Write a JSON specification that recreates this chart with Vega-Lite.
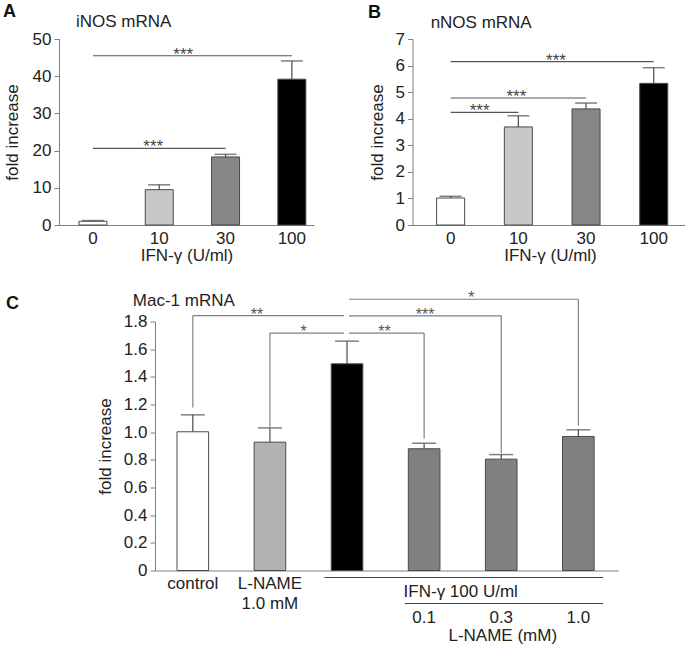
{
  "$schema": "https://vega.github.io/schema/vega-lite/v6.json",
  "padding": {"left": 3, "top": 2, "right": 0, "bottom": 0},
  "background": "white",
  "resolve": {"scale": {"color": "independent"}},
  "spacing": 26.5,
  "config": {
    "view": {"stroke": null},
    "font": "Liberation Sans",
    "axis": {"grid": false, "domainColor": "#808080", "tickColor": "#808080", "labelFont": "Liberation Sans", "titleFont": "Liberation Sans", "labelColor": "#222222", "titleColor": "#222222", "labelFontSize": 17, "titleFontSize": 17, "titleFontWeight": "normal", "labelOverlap": false},
    "axisY": {"tickSize": 5, "labelPadding": 3, "titlePadding": 9},
    "axisX": {"ticks": false, "tickSize": 0, "labelPadding": 5, "titlePadding": 1, "labelAngle": 0},
    "title": {"font": "Liberation Sans", "fontSize": 18, "fontWeight": "bold", "anchor": "start", "frame": "bounds", "color": "#111111"},
    "text": {"font": "Liberation Sans", "fontSize": 17, "color": "#222222"}
  },
  "vconcat": [
    {
      "spacing": 53.5,
      "resolve": {"scale": {"color": "independent"}},
      "hconcat": [
        {
          "width": 255, "height": 186,
          "title": {"text": "A", "offset": -8},
          "data": {"values": [
            {"dose": "0", "mean": 1.0, "upper": 1.2},
            {"dose": "10", "mean": 9.5, "upper": 10.8},
            {"dose": "30", "mean": 18.3, "upper": 19.0},
            {"dose": "100", "mean": 39.2, "upper": 44.1}
          ]},
          "encoding": {
            "x": {"field": "dose", "type": "nominal", "scale": {"domain": ["0", "10", "30", "100"], "paddingInner": 0.578, "paddingOuter": 0.212, "align": 0.71}, "axis": {"title": "IFN-γ (U/ml)"}},
            "y": {"field": "mean", "type": "quantitative", "scale": {"domain": [0, 50]}, "axis": {"title": "fold increase", "titlePadding": 11, "values": [0, 10, 20, 30, 40, 50]}}
          },
          "layer": [
            {"mark": {"type": "bar", "stroke": "#4a4a4a", "strokeWidth": 1},
             "encoding": {"color": {"field": "dose", "type": "nominal", "scale": {"domain": ["0", "10", "30", "100"], "range": ["#ffffff", "#c8c8c8", "#868686", "#000000"]}, "legend": null}}},
            {"mark": {"type": "rule", "color": "#4a4a4a", "strokeWidth": 1.2}, "encoding": {"y2": {"field": "upper"}}},
            {"mark": {"type": "tick", "color": "#4a4a4a", "size": 22, "thickness": 1.5}, "encoding": {"y": {"field": "upper", "type": "quantitative"}}},
            {"data": {"values": [{"from": "0", "to": "30", "level": 20.6}, {"from": "0", "to": "100", "level": 45.5}]},
             "mark": {"type": "rule", "color": "#555555", "strokeWidth": 1.2},
             "encoding": {"x": {"field": "from", "type": "nominal", "bandPosition": 0.5}, "x2": {"field": "to", "bandPosition": 0.5}, "y": {"field": "level", "type": "quantitative"}}},
            {"data": {"values": [{"at": "10", "level": 20.6, "sig": "***"}]},
             "mark": {"type": "text", "baseline": "alphabetic", "dx": -6, "dy": 4, "fontSize": 17, "color": "#444444"},
             "encoding": {"x": {"field": "at", "type": "nominal"}, "y": {"field": "level", "type": "quantitative"}, "text": {"field": "sig"}}},
            {"data": {"values": [{"at": "10", "level": 45.5, "sig": "***"}]},
             "mark": {"type": "text", "baseline": "alphabetic", "dx": 24, "dy": 4, "fontSize": 17, "color": "#444444"},
             "encoding": {"x": {"field": "at", "type": "nominal"}, "y": {"field": "level", "type": "quantitative"}, "text": {"field": "sig"}}},
            {"data": {"values": [{"at": "0", "level": 54.6, "label": "iNOS mRNA"}]},
             "mark": {"type": "text", "align": "left", "baseline": "middle", "dx": -17, "fontSize": 17},
             "encoding": {"x": {"field": "at", "type": "nominal"}, "y": {"field": "level", "type": "quantitative"}, "text": {"field": "label"}}}
          ]
        },
        {
          "width": 275, "height": 186,
          "title": {"text": "B", "offset": -8},
          "data": {"values": [
            {"dose": "0", "mean": 1.016, "upper": 1.08},
            {"dose": "10", "mean": 3.69, "upper": 4.11},
            {"dose": "30", "mean": 4.37, "upper": 4.59},
            {"dose": "100", "mean": 5.33, "upper": 5.92}
          ]},
          "encoding": {
            "x": {"field": "dose", "type": "nominal", "scale": {"domain": ["0", "10", "30", "100"], "paddingInner": 0.586, "paddingOuter": 0.324, "align": 0.55}, "axis": {"title": "IFN-γ (U/ml)"}},
            "y": {"field": "mean", "type": "quantitative", "scale": {"domain": [0, 7]}, "axis": {"title": "fold increase", "values": [0, 1, 2, 3, 4, 5, 6, 7]}}
          },
          "layer": [
            {"mark": {"type": "bar", "stroke": "#4a4a4a", "strokeWidth": 1},
             "encoding": {"color": {"field": "dose", "type": "nominal", "scale": {"domain": ["0", "10", "30", "100"], "range": ["#ffffff", "#c8c8c8", "#868686", "#000000"]}, "legend": null}}},
            {"mark": {"type": "rule", "color": "#4a4a4a", "strokeWidth": 1.2}, "encoding": {"y2": {"field": "upper"}}},
            {"mark": {"type": "tick", "color": "#4a4a4a", "size": 22, "thickness": 1.5}, "encoding": {"y": {"field": "upper", "type": "quantitative"}}},
            {"data": {"values": [{"from": "0", "to": "10", "level": 4.24}, {"from": "0", "to": "30", "level": 4.78}, {"from": "0", "to": "100", "level": 6.15}]},
             "mark": {"type": "rule", "color": "#555555", "strokeWidth": 1.2},
             "encoding": {"x": {"field": "from", "type": "nominal", "bandPosition": 0.5}, "x2": {"field": "to", "bandPosition": 0.5}, "y": {"field": "level", "type": "quantitative"}}},
            {"data": {"values": [{"at": "0", "level": 4.24, "sig": "***"}]},
             "mark": {"type": "text", "baseline": "alphabetic", "dx": 29, "dy": 4, "fontSize": 17, "color": "#444444"},
             "encoding": {"x": {"field": "at", "type": "nominal"}, "y": {"field": "level", "type": "quantitative"}, "text": {"field": "sig"}}},
            {"data": {"values": [{"at": "10", "level": 4.78, "sig": "***"}]},
             "mark": {"type": "text", "baseline": "alphabetic", "dx": -2, "dy": 4, "fontSize": 17, "color": "#444444"},
             "encoding": {"x": {"field": "at", "type": "nominal"}, "y": {"field": "level", "type": "quantitative"}, "text": {"field": "sig"}}},
            {"data": {"values": [{"at": "30", "level": 6.15, "sig": "***"}]},
             "mark": {"type": "text", "baseline": "alphabetic", "dx": -30, "dy": 4, "fontSize": 17, "color": "#444444"},
             "encoding": {"x": {"field": "at", "type": "nominal"}, "y": {"field": "level", "type": "quantitative"}, "text": {"field": "sig"}}},
            {"data": {"values": [{"at": "0", "level": 7.6, "label": "nNOS mRNA"}]},
             "mark": {"type": "text", "align": "left", "baseline": "middle", "dx": -20, "fontSize": 17},
             "encoding": {"x": {"field": "at", "type": "nominal"}, "y": {"field": "level", "type": "quantitative"}, "text": {"field": "label"}}}
          ]
        }
      ]
    },
    {
      "spacing": 20,
      "resolve": {"scale": {"color": "independent"}},
      "hconcat": [
        {
          "width": 17, "height": 249,
          "title": {"text": "C", "dx": -53, "offset": 9},
          "data": {"values": []},
          "mark": {"type": "point", "opacity": 0}
        },
        {
          "width": 463, "height": 249,
          "data": {"values": [
            {"group": "control", "mean": 1.003, "upper": 1.125},
            {"group": "lname", "mean": 0.928, "upper": 1.031},
            {"group": "ifn", "mean": 1.494, "upper": 1.658},
            {"group": "ifn01", "mean": 0.88, "upper": 0.92},
            {"group": "ifn03", "mean": 0.805, "upper": 0.838},
            {"group": "ifn10", "mean": 0.969, "upper": 1.017}
          ]},
          "encoding": {
            "x": {"field": "group", "type": "nominal", "scale": {"domain": ["control", "lname", "ifn", "ifn01", "ifn03", "ifn10"], "paddingInner": 0.59, "paddingOuter": 0.2975, "align": 0.48},
                  "axis": {"title": null, "labelPadding": 5, "labelLineHeight": 20, "labelExpr": "datum.value == 'control' ? 'control' : datum.value == 'lname' ? ['L-NAME', '1.0 mM'] : ''"}},
            "y": {"field": "mean", "type": "quantitative", "scale": {"domain": [0, 1.8]}, "axis": {"title": "fold increase", "values": [0, 0.2, 0.4, 0.6, 0.8, 1.0, 1.2, 1.4, 1.6, 1.8], "labelExpr": "datum.value == 0 ? '0' : format(datum.value, '.1f')"}}
          },
          "layer": [
            {"mark": {"type": "bar", "stroke": "#4a4a4a", "strokeWidth": 1},
             "encoding": {"color": {"field": "group", "type": "nominal", "scale": {"domain": ["control", "lname", "ifn", "ifn01", "ifn03", "ifn10"], "range": ["#ffffff", "#b2b2b2", "#000000", "#808080", "#808080", "#808080"]}, "legend": null}}},
            {"mark": {"type": "rule", "color": "#4a4a4a", "strokeWidth": 1.2}, "encoding": {"y2": {"field": "upper"}}},
            {"mark": {"type": "tick", "color": "#4a4a4a", "size": 24, "thickness": 1.5}, "encoding": {"y": {"field": "upper", "type": "quantitative"}}},
            {"data": {"values": [{"from": "control", "to": "ifn", "level": 1.843}, {"from": "lname", "to": "ifn", "level": 1.716}]},
             "mark": {"type": "rule", "color": "#808080", "strokeWidth": 1.2, "x2Offset": -3},
             "encoding": {"x": {"field": "from", "type": "nominal", "bandPosition": 0.5}, "x2": {"field": "to", "bandPosition": 0.5}, "y": {"field": "level", "type": "quantitative"}}},
            {"data": {"values": [{"from": "ifn", "to": "ifn01", "level": 1.716}, {"from": "ifn", "to": "ifn03", "level": 1.841}, {"from": "ifn", "to": "ifn10", "level": 1.961}]},
             "mark": {"type": "rule", "color": "#808080", "strokeWidth": 1.2, "xOffset": 2},
             "encoding": {"x": {"field": "from", "type": "nominal", "bandPosition": 0.5}, "x2": {"field": "to", "bandPosition": 0.5}, "y": {"field": "level", "type": "quantitative"}}},
            {"data": {"values": [
               {"at": "control", "low": 1.178, "high": 1.843},
               {"at": "lname", "low": 1.04, "high": 1.716},
               {"at": "ifn01", "low": 0.954, "high": 1.716},
               {"at": "ifn03", "low": 0.848, "high": 1.841},
               {"at": "ifn10", "low": 1.048, "high": 1.961}]},
             "mark": {"type": "rule", "color": "#808080", "strokeWidth": 1.2},
             "encoding": {"x": {"field": "at", "type": "nominal"}, "y": {"field": "low", "type": "quantitative"}, "y2": {"field": "high"}}},
            {"data": {"values": [{"at": "lname", "level": 1.843, "sig": "**"}]},
             "mark": {"type": "text", "baseline": "alphabetic", "dx": -13, "dy": 4, "fontSize": 16, "color": "#555555"},
             "encoding": {"x": {"field": "at", "type": "nominal"}, "y": {"field": "level", "type": "quantitative"}, "text": {"field": "sig"}}},
            {"data": {"values": [{"at": "ifn", "level": 1.716, "sig": "*"}]},
             "mark": {"type": "text", "baseline": "alphabetic", "dx": -43.5, "dy": 4, "fontSize": 16, "color": "#555555"},
             "encoding": {"x": {"field": "at", "type": "nominal"}, "y": {"field": "level", "type": "quantitative"}, "text": {"field": "sig"}}},
            {"data": {"values": [{"at": "ifn", "level": 1.716, "sig": "**"}]},
             "mark": {"type": "text", "baseline": "alphabetic", "dx": 37.5, "dy": 4, "fontSize": 16, "color": "#555555"},
             "encoding": {"x": {"field": "at", "type": "nominal"}, "y": {"field": "level", "type": "quantitative"}, "text": {"field": "sig"}}},
            {"data": {"values": [{"at": "ifn01", "level": 1.841, "sig": "***"}]},
             "mark": {"type": "text", "baseline": "alphabetic", "dx": 1, "dy": 4, "fontSize": 16, "color": "#555555"},
             "encoding": {"x": {"field": "at", "type": "nominal"}, "y": {"field": "level", "type": "quantitative"}, "text": {"field": "sig"}}},
            {"data": {"values": [{"at": "ifn03", "level": 1.961, "sig": "*"}]},
             "mark": {"type": "text", "baseline": "alphabetic", "dx": -30, "dy": 4, "fontSize": 16, "color": "#555555"},
             "encoding": {"x": {"field": "at", "type": "nominal"}, "y": {"field": "level", "type": "quantitative"}, "text": {"field": "sig"}}},
            {"data": {"values": [{"at": "control", "level": 1.945, "label": "Mac-1 mRNA"}]},
             "mark": {"type": "text", "align": "center", "baseline": "middle", "dx": -9, "fontSize": 17},
             "encoding": {"x": {"field": "at", "type": "nominal"}, "y": {"field": "level", "type": "quantitative"}, "text": {"field": "label"}}},
            {"data": {"values": [{"from": "ifn", "to": "ifn10", "level": -0.0506}]},
             "mark": {"type": "rule", "color": "#444444", "strokeWidth": 1.2, "xOffset": -22.5, "x2Offset": 24.8},
             "encoding": {"x": {"field": "from", "type": "nominal", "bandPosition": 0.5}, "x2": {"field": "to", "bandPosition": 0.5}, "y": {"field": "level", "type": "quantitative"}}},
            {"data": {"values": [{"from": "ifn01", "to": "ifn10", "level": -0.2386}]},
             "mark": {"type": "rule", "color": "#444444", "strokeWidth": 1.2, "xOffset": -19.3, "x2Offset": 24.8},
             "encoding": {"x": {"field": "from", "type": "nominal", "bandPosition": 0.5}, "x2": {"field": "to", "bandPosition": 0.5}, "y": {"field": "level", "type": "quantitative"}}},
            {"data": {"values": [{"at": "ifn01", "level": -0.345, "label": "0.1"}, {"at": "ifn03", "level": -0.345, "label": "0.3"}, {"at": "ifn10", "level": -0.345, "label": "1.0"}]},
             "mark": {"type": "text", "align": "center", "baseline": "middle", "fontSize": 17},
             "encoding": {"x": {"field": "at", "type": "nominal"}, "y": {"field": "level", "type": "quantitative"}, "text": {"field": "label"}}},
            {"data": {"values": [{"at": "ifn03", "level": -0.157, "label": "IFN-γ 100 U/ml"}]},
             "mark": {"type": "text", "align": "center", "baseline": "middle", "dx": -40.5, "fontSize": 17},
             "encoding": {"x": {"field": "at", "type": "nominal"}, "y": {"field": "level", "type": "quantitative"}, "text": {"field": "label"}}},
            {"data": {"values": [{"at": "ifn03", "level": -0.47, "label": "L-NAME (mM)"}]},
             "mark": {"type": "text", "align": "center", "baseline": "middle", "dx": 1.5, "fontSize": 17},
             "encoding": {"x": {"field": "at", "type": "nominal"}, "y": {"field": "level", "type": "quantitative"}, "text": {"field": "label"}}}
          ]
        }
      ]
    }
  ]
}
